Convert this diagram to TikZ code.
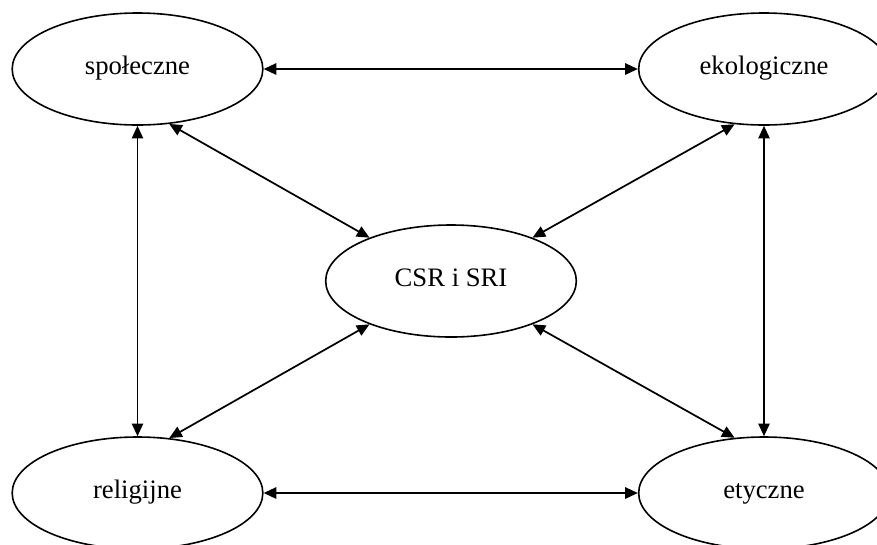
\documentclass[tikz,border=0pt]{standalone}
\usepackage{fontspec}
\setmainfont{Liberation Serif}
\usetikzlibrary{arrows.meta,shapes.geometric}
\begin{document}
\begin{tikzpicture}[x=0.75pt,y=-0.75pt,
  area/.style={draw,ellipse,line width=1.2pt,minimum width=188pt,minimum height=84pt,
    inner sep=0pt,text height=13pt,text depth=4.5pt,font=\fontsize{20}{22}\selectfont},
  link/.style={line width=1.3pt,{Triangle[length=9.5pt,width=8.5pt]}-{Triangle[length=9.5pt,width=8.5pt]}}]
\useasboundingbox (0,0) rectangle (877,544);
\node[area] (tl) at (137.5,69) {społeczne};
\node[area] (tr) at (764,69) {ekologiczne};
\node[area] (c) at (451,281) {CSR i SRI};
\node[area] (bl) at (137.5,493) {religijne};
\node[area] (br) at (764,493) {etyczne};
% outer frame of links
\draw[link] (tl.east) -- (tr.west);
\draw[link] (bl.east) -- (br.west);
\draw[link] (tl.south) -- (bl.north);
\draw[link] (tr.south) -- (br.north);
% links to the centre
\draw[link] (tl.-60) -- (c.152);
\draw[link] (tr.-118) -- (c.28);
\draw[link] (bl.60) -- (c.208);
\draw[link] (br.118) -- (c.-28);
\end{tikzpicture}
\end{document}
